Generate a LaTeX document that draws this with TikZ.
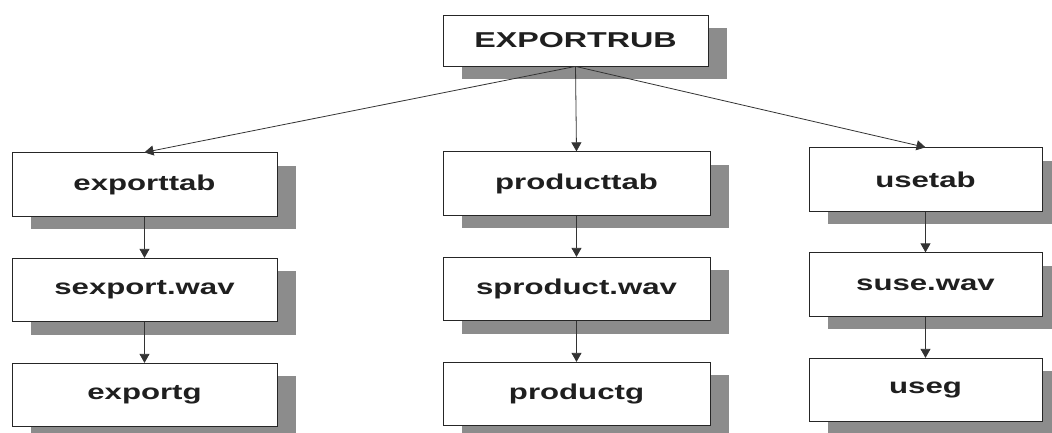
\documentclass[tikz,border=0pt]{standalone}
\usepackage{fontspec}
\setmainfont{Liberation Sans}
\usetikzlibrary{arrows.meta,shadows}
\newcommand\widetext[2][1.45]{\scalebox{#1}[1]{\bfseries #2}}
\begin{document}
\begin{tikzpicture}[x=1pt,y=-1pt,
  box/.style={draw=black!85, line width=0.8pt, fill=white,
    minimum width=#1, minimum height=63.5pt, inner sep=0pt,
    text=black!88, font=\fontsize{21.5}{24}\selectfont,
    drop shadow={shadow xshift=19pt, shadow yshift=-13pt,
      fill=black!45, opacity=1}},
  link/.style={draw=black!80, line width=0.8pt,
    -{Triangle[length=9pt,width=10pt]}}]
  \clip (0,0) rectangle (1052,432);
  \fill[white] (0,0) rectangle (1052,432);

  % root
  \node[box=265pt, minimum height=51pt] (root) at (575.5,40.5)
    {\widetext[1.5]{EXPORTRUB}};

  % export branch
  \node[box=265pt] (exporttab) at (144.5,184.5) {\widetext{exporttab}};
  \node[box=265pt] (sexport)   at (144.5,290)   {\widetext{sexport.wav}};
  \node[box=265pt] (exportg)   at (144.5,395)   {\widetext{exportg}};

  % product branch
  \node[box=267pt] (producttab) at (576.5,183.5) {\widetext{producttab}};
  \node[box=267pt] (sproduct)   at (576.5,289)   {\widetext{sproduct.wav}};
  \node[box=267pt] (productg)   at (576.5,394)   {\widetext{productg}};

  % use branch
  \node[box=233pt] (usetab) at (925.5,179.5) {\widetext{usetab}};
  \node[box=233pt] (suse)   at (925.5,284.5) {\widetext{suse.wav}};
  \node[box=233pt] (useg)   at (925.5,390)   {\widetext{useg}};

  % connectors
  \draw[link] (root.south) -- (exporttab.north);
  \draw[link] (root.south) -- (producttab.north);
  \draw[link] (root.south) -- (usetab.north);
  \draw[link] (exporttab) -- (sexport);
  \draw[link] (sexport) -- (exportg);
  \draw[link] (producttab) -- (sproduct);
  \draw[link] (sproduct) -- (productg);
  \draw[link] (usetab) -- (suse);
  \draw[link] (suse) -- (useg);
\end{tikzpicture}
\end{document}
